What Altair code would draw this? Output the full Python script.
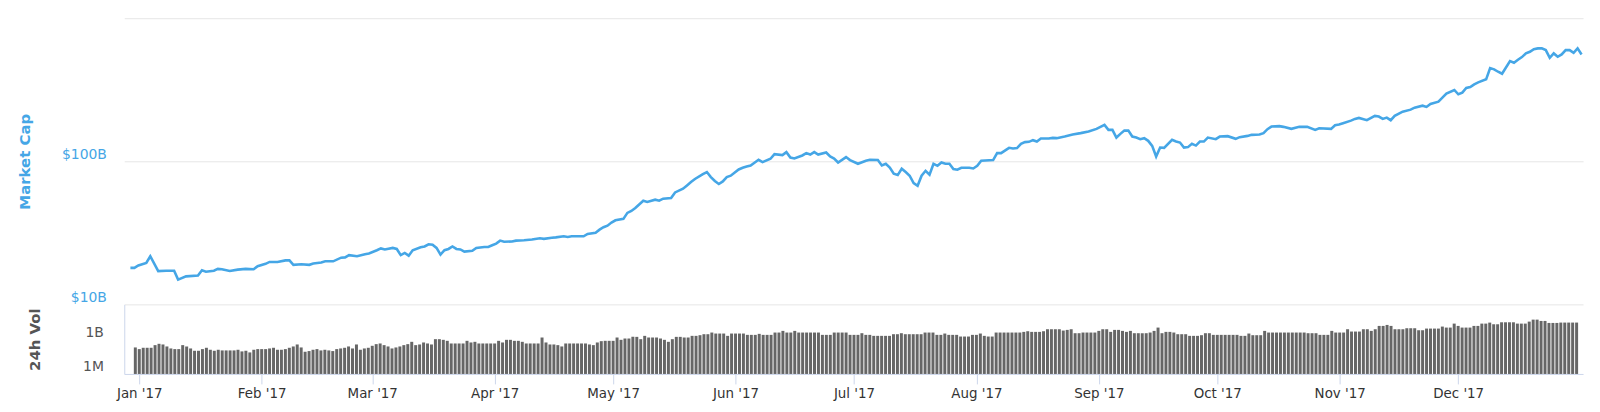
import altair as alt
import pandas as pd

# ---------------- data ----------------
# market cap: day offset from 2017-01-01 and value in $ billions
cap_days = [
    -1, 0, 1, 3, 4, 6, 8, 10, 11, 13,
    16, 17, 18, 20, 21, 22, 24, 26, 28, 30,
    31, 33, 34, 36, 38, 39, 40, 42, 44, 45,
    47, 48, 50, 52, 53, 54, 56, 58, 59, 61,
    62, 63, 65, 66, 67, 68, 69, 70, 72, 73,
    74, 75, 76, 77, 78, 79, 80, 81, 82, 83,
    85, 86, 88, 89, 90, 91, 92, 93, 95, 96,
    98, 100, 102, 103, 105, 106, 108, 109, 110, 113,
    114, 116, 117, 118, 119, 120, 121, 123, 124, 125,
    126, 128, 129, 131, 132, 133, 135, 136, 138, 139,
    140, 141, 143, 144, 145, 146, 147, 148, 149, 150,
    152, 153, 154, 155, 157, 158, 160, 161, 163, 164,
    165, 166, 168, 169, 170, 171, 172, 174, 175, 176,
    177, 179, 180, 182, 184, 185, 187, 188, 189, 190,
    191, 192, 193, 194, 195, 196, 197, 198, 199, 200,
    201, 202, 203, 204, 205, 206, 207, 208, 210, 211,
    212, 213, 214, 216, 217, 218, 220, 221, 222, 223,
    224, 225, 226, 227, 228, 230, 231, 232, 234, 236,
    238, 240, 242, 244, 245, 246, 247, 248, 249, 250,
    251, 252, 253, 254, 255, 256, 257, 258, 259, 261,
    262, 263, 264, 265, 266, 267, 268, 269, 270, 272,
    273, 275, 277, 278, 280, 281, 283, 284, 285, 286,
    288, 289, 291, 293, 295, 297, 298, 301, 302, 303,
    304, 306, 307, 308, 310, 312, 313, 314, 315, 316,
    317, 319, 321, 322, 324, 325, 326, 328, 329, 330,
    332, 333, 334, 335, 336, 337, 338, 340, 341, 342,
    343, 344, 346, 347, 348, 349, 350, 351, 352, 353,
    354, 355, 356, 357, 358, 359, 360, 361, 362, 363,
    364,
]
cap_billions = [
    18.0, 18.0, 18.7, 19.5, 21.7, 17.1, 17.2, 17.2, 14.9, 15.7,
    15.9, 17.3, 16.9, 17.2, 17.7, 17.6, 17.1, 17.5, 17.7, 17.6,
    18.5, 19.2, 19.8, 19.8, 20.3, 20.3, 18.9, 19.1, 18.9, 19.3,
    19.6, 20.0, 20.0, 21.2, 21.3, 22.1, 21.7, 22.4, 22.7, 23.9,
    24.6, 24.2, 24.8, 24.4, 22.1, 22.9, 21.9, 23.9, 25.1, 25.4,
    26.3, 26.1, 24.8, 22.3, 23.9, 24.4, 25.4, 24.4, 24.2, 23.4,
    23.7, 24.8, 25.2, 25.2, 25.9, 26.6, 27.9, 27.4, 27.5, 27.9,
    28.1, 28.4, 29.0, 28.7, 29.2, 29.4, 29.9, 29.6, 29.9, 29.9,
    31.1, 31.7, 33.3, 34.6, 35.5, 37.3, 38.7, 39.6, 43.6, 45.0,
    47.2, 53.0, 52.0, 53.9, 53.0, 54.8, 55.4, 60.6, 64.3, 67.8,
    71.6, 75.2, 81.4, 84.1, 77.6, 72.8, 69.4, 72.3, 77.6, 79.3,
    87.7, 90.1, 92.0, 93.5, 102.4, 98.7, 104.1, 112.2, 110.5, 115.9,
    106.3, 104.6, 109.8, 114.1, 111.5, 115.9, 111.5, 115.2, 108.0, 104.6,
    98.1, 107.0, 102.0, 96.1, 100.8, 102.4, 102.0, 93.5, 96.1, 90.5,
    81.8, 80.1, 88.7, 84.1, 79.3, 70.5, 67.5, 79.3, 85.8, 80.5,
    96.1, 93.0, 98.1, 96.1, 96.1, 88.2, 87.3, 90.1, 90.1, 89.1,
    93.0, 100.8, 101.3, 102.0, 114.1, 114.1, 124.2, 122.8, 123.6, 132.4,
    136.1, 136.8, 140.5, 137.4, 144.2, 144.2, 145.8, 145.1, 148.9, 153.8,
    157.3, 161.4, 168.5, 179.7, 165.8, 165.8, 146.5, 155.5, 163.9, 163.9,
    148.9, 146.5, 142.8, 145.1, 139.0, 128.2, 108.0, 124.8, 124.2, 141.2,
    137.4, 135.2, 124.8, 125.6, 132.4, 128.8, 137.4, 137.4, 146.5, 142.8,
    148.9, 149.8, 143.5, 147.5, 150.5, 153.0, 153.8, 157.3, 167.7, 174.8,
    176.0, 174.0, 168.5, 174.0, 174.0, 165.8, 170.3, 168.5, 178.8, 180.5,
    184.6, 192.4, 197.8, 201.0, 193.7, 207.6, 205.3, 197.8, 202.0, 193.7,
    207.6, 222.3, 229.6, 237.1, 244.8, 239.8, 251.6, 261.1, 278.4, 296.9,
    315.0, 294.0, 301.6, 325.2, 330.5, 345.1, 356.4, 374.0, 448.4, 439.1,
    422.5, 409.1, 501.5, 488.1, 512.1, 534.8, 567.5, 582.3, 608.1, 615.1,
    615.1, 598.4, 528.9, 567.5, 537.5, 558.5, 598.4, 598.4, 573.0, 615.1,
    558.0,
]

# 24h volume in $ millions, one bar per day from 2016-12-31 to 2017-12-31
vol_first_day = -1
vol_millions = [
    193, 139, 181, 181, 181, 306, 398, 349, 235, 158, 139,
    139, 306, 235, 158, 100, 100, 139, 181, 122, 100,
    122, 107, 107, 107, 107, 122, 88, 100, 72, 122,
    139, 139, 139, 158, 181, 122, 122, 139, 181, 235,
    349, 193, 82, 94, 122, 139, 107, 122, 107, 94,
    139, 158, 181, 235, 158, 349, 122, 158, 181, 268,
    373, 425, 306, 235, 158, 193, 235, 306, 373, 590,
    306, 349, 518, 425, 349, 1000, 1000, 877, 719, 425,
    425, 425, 425, 719, 518, 590, 425, 425, 425, 425,
    425, 719, 518, 877, 877, 719, 719, 590, 425, 425,
    425, 425, 1390, 518, 349, 349, 306, 235, 425, 425, 425, 425,
    425, 425, 349, 306, 518, 674, 719, 719,
    719, 1390, 877, 1140, 1140, 1580, 1580, 1000, 1930, 1390,
    1390, 1390, 1140, 877, 590, 1000, 1580, 1580, 1390, 1390,
    1930, 1930, 2200, 2680, 2680, 3730, 3060, 3060, 3060, 1930,
    3060, 3060, 3060, 3060, 2350, 2350, 2350, 2870, 2350, 2350,
    2350, 3730, 3730, 5180, 3730, 3730, 5180, 3730, 3730, 3730,
    3730, 3730, 3730, 2350, 2350, 2350, 3730, 3730, 3730, 3730,
    2350, 2350, 2350, 3270, 2350, 2350, 1930, 1930, 1930, 1930,
    1930, 2680, 2680, 3270, 2680, 2680, 2680, 2680, 2680, 3730,
    3730, 3730, 2350, 2350, 3060, 2350, 2350, 2350, 1690, 1690,
    1690, 2350, 2350, 3060, 1930, 1690, 1690, 3730, 3730, 3730,
    3730, 3730, 3730, 3730, 4250, 4850, 4250, 4250, 4250, 4850,
    7200, 7200, 7200, 7200, 5530, 6310, 7200,
    3270, 3270, 3730,
    3730, 3730, 3730, 5180, 7200, 7200, 4250, 6310, 6310, 5180,
    4250, 5180, 3270, 3270, 3270, 3270, 3730, 5180, 10000, 3270,
    4250, 4250, 3730, 2680, 2680, 2680, 1930, 1930, 1930, 2200,
    3270, 3270, 2350, 2350, 2350, 2350, 2350, 2350, 2350, 1930,
    1930, 3060, 2200, 2200, 2200, 5180, 3730, 3730, 3730, 3730,
    3730, 3730, 3730, 3730, 3730, 3730, 3270, 3270, 3270, 2350,
    2350, 2350, 5180, 3730, 3730, 3730, 7200, 4540, 4540, 4540,
    7200, 7200, 5180, 7200, 13900, 13900, 16900, 13900, 7200, 7200,
    7200, 8770, 8770, 8770, 5900, 5900, 8200, 8200, 8200, 8200,
    12200, 10000, 10000, 22000, 13900, 10000, 10000, 10000, 13900, 13900,
    22000, 22000, 26800, 19300, 19300, 28600, 28600, 28600, 28600, 22000,
    22000, 22000, 32700, 48500, 48500, 37300, 37300, 25100, 25100, 25100,
    27000, 27000, 27000, 27000, 27000,
]

cap_tick_values = [1e10, 1e11, 1e12]
cap_tick_labels = ["$10B", "$100B", ""]
vol_tick_values = [1e6, 1e9]
vol_tick_labels = ["1M", "1B"]
month_numbers = list(range(1, 13))

# ---------------- build tables ----------------
base = pd.Timestamp("2017-01-01")


def day_to_iso(d):
    return (base + pd.Timedelta(days=d)).strftime("%Y-%m-%d")


cap_df = pd.DataFrame({
    "date": [day_to_iso(d) for d in cap_days],
    "cap": [v * 1e9 for v in cap_billions],
})
vol_df = pd.DataFrame({
    "date": [day_to_iso(vol_first_day + i) for i in range(len(vol_millions))],
    "vol": [v * 1e6 for v in vol_millions],
})


def label_expr(values, labels):
    expr = "''"
    for v, lab in zip(values, labels):
        expr = f"datum.value == {v!r} ? '{lab}' : ({expr})"
    return expr


FONT = "DejaVu Sans"
BLUE = "#45a6e6"
W = 1468

x_scale = alt.Scale(
    type="utc",
    domain=[
        alt.DateTime(year=2016, month=12, date=29, hours=11, utc=True),
        alt.DateTime(year=2017, month=12, date=31, hours=9, utc=True),
    ],
)

top = alt.Chart(cap_df).mark_line(color=BLUE, strokeWidth=2.6).encode(
    x=alt.X("date:T", scale=x_scale, axis=None),
    y=alt.Y(
        "cap:Q",
        scale=alt.Scale(type="log", domain=[1e10, 1e12]),
        axis=alt.Axis(
            values=cap_tick_values,
            labelExpr=label_expr(cap_tick_values, cap_tick_labels),
            grid=True, gridColor="#e6e6e6", gridWidth=1,
            domain=False, ticks=False,
            labelColor=BLUE, labelFont=FONT, labelFontSize=14,
            labelPadding=18, labelBaseline="alphabetic", labelOffset=-3,
            title="Market Cap", titleColor=BLUE, titleFont=FONT,
            titleFontSize=15, titleFontWeight="bold", titleAngle=270,
            titleX=-95, titleY=144, titleAlign="center",
            titleBaseline="alphabetic",
        ),
    ),
).properties(width=W, height=288)

bottom = alt.Chart(vol_df).mark_bar(color="#666666", width=3).encode(
    x=alt.X(
        "date:T", scale=x_scale,
        axis=alt.Axis(
            values=[alt.DateTime(year=2017, month=m, date=1, utc=True) for m in month_numbers],
            format="%b '%y", labelAngle=0, labelFlush=False, labelOverlap=False,
            domainColor="#ccd6eb", tickColor="#ccd6eb", tickSize=10,
            labelPadding=3, labelColor="#333333", labelFont=FONT,
            labelFontSize=13.5, grid=False, title=None,
        ),
    ),
    y=alt.Y(
        "vol:Q",
        scale=alt.Scale(type="log", domain=[1e6, 1e12]),
        axis=alt.Axis(
            values=vol_tick_values,
            labelExpr=label_expr(vol_tick_values, vol_tick_labels),
            grid=False, domain=True, domainColor="#ccd6eb", ticks=False,
            labelColor="#555555", labelFont=FONT, labelFontSize=14,
            labelPadding=21, labelBaseline="alphabetic", labelOffset=-3,
            title="24h Vol", titleColor="#555555", titleFont=FONT,
            titleFontSize=15, titleFontWeight="bold", titleAngle=270,
            titleX=-85, titleY=35, titleAlign="center",
            titleBaseline="alphabetic",
        ),
    ),
    y2=alt.datum(1e6),
).properties(width=W, height=70)

chart = alt.vconcat(top, bottom, spacing=0).properties(
    padding={"left": 10, "top": 9, "right": 5, "bottom": 5},
    background="white",
).configure_view(stroke=None)

chart.save("out.html", embed_options={"renderer": "svg", "actions": False})
